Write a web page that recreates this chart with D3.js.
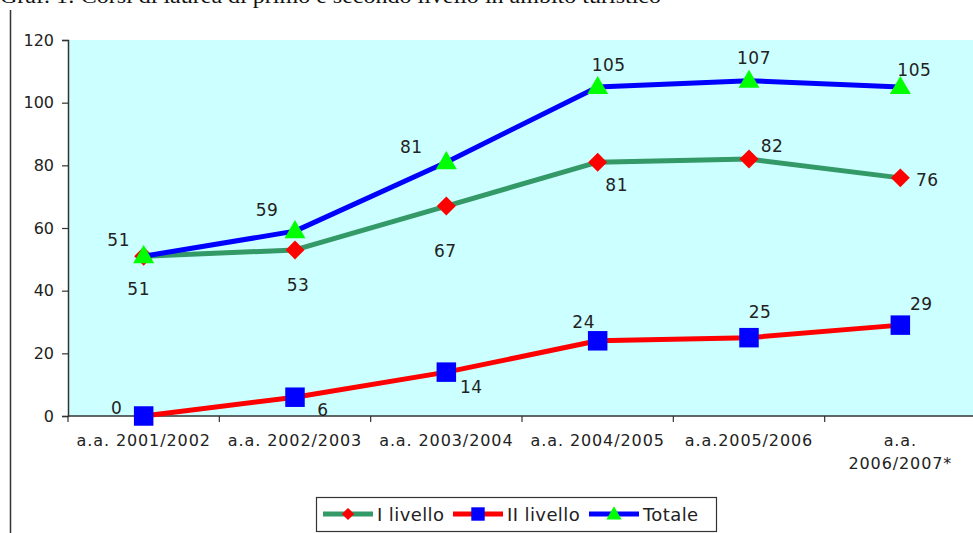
<!DOCTYPE html>
<html>
<head>
<meta charset="utf-8">
<script src="https://cdn.jsdelivr.net/npm/d3@7"></script>
<style>
  html, body { margin: 0; padding: 0; background: #ffffff; }
  svg { display: block; }
</style>
</head>
<body>
<svg id="chart" width="973" height="533"></svg>
<script>
// Corsi di laurea di primo e secondo livello in ambito turistico
const categories = [
  ["a.a. 2001/2002"],
  ["a.a. 2002/2003"],
  ["a.a. 2003/2004"],
  ["a.a. 2004/2005"],
  ["a.a.2005/2006"],
  ["a.a.", "2006/2007*"]
];
const primoLivello   = [51, 53, 67, 81, 82, 76];
const secondoLivello = [0, 6, 14, 24, 25, 29];
const totale         = [51, 59, 81, 105, 107, 105];
const yTicks = [0, 20, 40, 60, 80, 100, 120];
const seriesNames = ["I livello", "II livello", "Totale"];

// hand-placed value labels (dx, dy from each point)
const labelOffsetsI   = [[-5, 33], [3, 35], [-1, 45], [19, 23], [23, -13], [27, 2]];
const labelOffsetsII  = [[-27, -8], [28, 13], [25, 15], [-14, -19], [11, -26], [21, -21]];
const labelOffsetsTot = [[-25, -16], [-28, -21], [-35, -15], [11, -22], [5, -23], [14, -17]];

const svg = d3.select("#chart");
const plotLeft = 68, plotRight = 976, plotTop = 40, plotBottom = 416;
const font = "'DejaVu Sans', Verdana, sans-serif";
const ink = "#222";

// page title, running off the top edge of the page
svg.append("text")
  .attr("x", 0).attr("y", 3)
  .attr("font-family", "'Liberation Serif', 'Times New Roman', serif")
  .attr("font-size", 21)
  .attr("textLength", 661)
  .attr("lengthAdjust", "spacingAndGlyphs")
  .attr("fill", "#111")
  .text("Graf. 1: Corsi di laurea di primo e secondo livello in ambito turistico");

// frame line on the left
svg.append("line")
  .attr("x1", 10.5).attr("x2", 10.5).attr("y1", 10).attr("y2", 533)
  .attr("stroke", "#333").attr("stroke-width", 1.5);

const x = d3.scaleBand().domain(d3.range(categories.length)).range([plotLeft, plotRight]).padding(0);
const cx = i => x(i) + x.bandwidth() / 2;
const y = d3.scaleLinear().domain([0, 120]).range([plotBottom, plotTop]);

// plot background
svg.append("rect")
  .attr("x", plotLeft).attr("y", y(120))
  .attr("width", plotRight - plotLeft).attr("height", y(0) - y(120))
  .attr("fill", "#ccffff");

// y axis
const yAxis = svg.append("g")
  .attr("transform", `translate(${plotLeft},0)`)
  .call(d3.axisLeft(y).tickValues(yTicks).tickSize(6).tickPadding(8));
yAxis.select(".domain").attr("stroke", "#333").attr("stroke-width", 1.5);
yAxis.selectAll(".tick line").attr("stroke", "#333").attr("stroke-width", 1.2);
yAxis.selectAll(".tick text")
  .attr("font-family", font).attr("font-size", 16).attr("fill", ink);

// x axis: boundary ticks between categories
const xAxis = svg.append("g");
xAxis.append("line")
  .attr("x1", plotLeft).attr("x2", plotRight).attr("y1", plotBottom).attr("y2", plotBottom)
  .attr("stroke", "#333").attr("stroke-width", 1.5);
xAxis.selectAll("line.tk")
  .data(d3.range(categories.length + 1))
  .join("line")
  .attr("class", "tk")
  .attr("x1", i => i < categories.length ? x(i) : plotRight)
  .attr("x2", i => i < categories.length ? x(i) : plotRight)
  .attr("y1", plotBottom).attr("y2", plotBottom + 6)
  .attr("stroke", "#333").attr("stroke-width", 1.2);
const catLabels = xAxis.selectAll("text.cat")
  .data(categories)
  .join("text")
  .attr("class", "cat")
  .attr("x", (d, i) => cx(i))
  .attr("y", 446)
  .attr("text-anchor", "middle")
  .attr("font-family", font).attr("font-size", 16)
  .attr("letter-spacing", 0.9)
  .attr("fill", ink);
catLabels.selectAll("tspan")
  .data(d => d)
  .join("tspan")
  .attr("x", function () { return this.parentNode.getAttribute("x"); })
  .attr("dy", (d, j) => j === 0 ? 0 : 23)
  .text(d => d);

const line = d3.line().x((d, i) => cx(i)).y(d => y(d));

const series = [
  { name: seriesNames[0], values: primoLivello, offsets: labelOffsetsI,
    stroke: "#339966", fill: "#ff0000", symbol: d3.symbolDiamond, size: 180 },
  { name: seriesNames[1], values: secondoLivello, offsets: labelOffsetsII,
    stroke: "#ff0000", fill: "#0000ff", symbol: d3.symbolSquare, size: 380 },
  { name: seriesNames[2], values: totale, offsets: labelOffsetsTot,
    stroke: "#0000ff", fill: "#00ff00", symbol: d3.symbolTriangle, size: 190 }
];

// diamond drawn as a square rotated 45 degrees
function markerPath(s, size) {
  if (s.symbol === d3.symbolDiamond) return d3.symbol(d3.symbolSquare, size)();
  return d3.symbol(s.symbol, size)();
}
function markerTransform(s, px, py) {
  if (s.symbol === d3.symbolDiamond) return `translate(${px},${py}) rotate(45)`;
  if (s.symbol === d3.symbolTriangle) return `translate(${px},${py + 1})`;
  return `translate(${px},${py})`;
}

series.forEach(s => {
  const g = svg.append("g");
  g.append("path")
    .attr("d", line(s.values))
    .attr("fill", "none")
    .attr("stroke", s.stroke)
    .attr("stroke-width", 5)
    .attr("stroke-linejoin", "round");
  g.selectAll("path.mk")
    .data(s.values)
    .join("path")
    .attr("class", "mk")
    .attr("d", markerPath(s, s.size))
    .attr("transform", (d, i) => markerTransform(s, cx(i), y(d)))
    .attr("fill", s.fill);
});

// value labels on top
series.forEach(s => {
  svg.append("g").selectAll("text")
    .data(s.values)
    .join("text")
    .attr("x", (d, i) => cx(i) + s.offsets[i][0])
    .attr("y", (d, i) => y(d) + s.offsets[i][1])
    .attr("text-anchor", "middle")
    .attr("dominant-baseline", "central")
    .attr("font-family", font).attr("font-size", 17)
    .attr("letter-spacing", 0.5)
    .attr("fill", ink)
    .text(d => d);
});

// legend
const lg = svg.append("g");
lg.append("rect")
  .attr("x", 316.5).attr("y", 497.5).attr("width", 400).attr("height", 34)
  .attr("fill", "#fff").attr("stroke", "#333").attr("stroke-width", 1.2);
const legendX = [323, 453, 589];
series.forEach((s, k) => {
  const lx = legendX[k], ly = 514;
  lg.append("line")
    .attr("x1", lx).attr("x2", lx + 50).attr("y1", ly).attr("y2", ly)
    .attr("stroke", s.stroke).attr("stroke-width", 5);
  lg.append("path")
    .attr("d", markerPath(s, s.symbol === d3.symbolSquare ? 180 : s.symbol === d3.symbolDiamond ? 75 : 100))
    .attr("transform", markerTransform(s, lx + 25, ly))
    .attr("fill", s.fill);
  lg.append("text")
    .attr("x", lx + 54).attr("y", ly)
    .attr("dominant-baseline", "central")
    .attr("font-family", font).attr("font-size", 18)
    .attr("letter-spacing", 0.4)
    .attr("fill", ink)
    .text(s.name);
});
</script>
</body>
</html>
